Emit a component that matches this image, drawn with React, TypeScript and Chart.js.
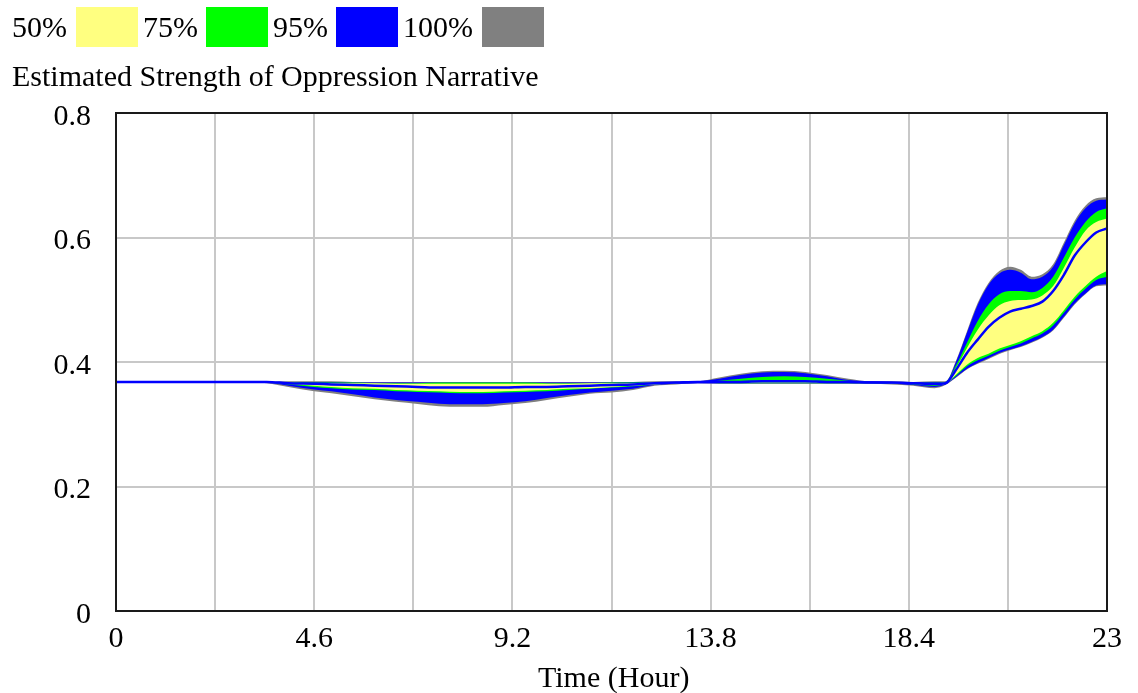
import React, { useEffect, useRef } from 'react';
import { Chart, registerables } from 'chart.js';

Chart.register(...registerables);

// Time axis (hours)
const times = [0, 1, 2, 3, 3.5, 4, 4.6, 5, 5.5, 6, 6.5, 7, 7.5, 8, 8.5, 9, 9.5, 10, 10.5, 11, 11.5, 12, 12.5, 13,
  13.5, 14, 14.5, 15, 15.5, 16, 16.5, 17, 17.5, 18, 18.5, 19, 19.25,
  19.5, 19.75, 20, 20.25, 20.5, 20.75, 21, 21.25, 21.5, 21.75, 22, 22.25, 22.5, 22.75, 23];

// 100% band (max / min)
const maxRun = [0.368, 0.368, 0.368, 0.368, 0.368, 0.369, 0.369, 0.369, 0.368, 0.368, 0.368, 0.368, 0.368, 0.368, 0.368, 0.368, 0.368, 0.368, 0.368, 0.368, 0.368, 0.368, 0.369, 0.369,
  0.369, 0.375, 0.381, 0.385, 0.386, 0.384, 0.379, 0.373, 0.369, 0.369, 0.368, 0.369, 0.369,
  0.403, 0.4495, 0.495, 0.527, 0.546, 0.553, 0.548, 0.537, 0.541, 0.557, 0.592, 0.627, 0.651, 0.663, 0.6645];
const minRun = [0.368, 0.368, 0.368, 0.368, 0.366, 0.36, 0.353, 0.35, 0.345, 0.34, 0.336, 0.3325, 0.329, 0.328, 0.328, 0.331, 0.334, 0.339, 0.344, 0.349, 0.351, 0.355, 0.362, 0.364,
  0.366, 0.365, 0.365, 0.365, 0.365, 0.365, 0.365, 0.365, 0.365, 0.364, 0.362, 0.358, 0.363,
  0.375, 0.388, 0.397, 0.405, 0.413, 0.419, 0.424, 0.431, 0.439, 0.4505, 0.471, 0.4925, 0.509, 0.5215, 0.523];

// 95% band
const hi95 = [0.368, 0.368, 0.368, 0.368, 0.368, 0.368, 0.368, 0.368, 0.367, 0.367, 0.367, 0.367, 0.367, 0.367, 0.367, 0.367, 0.367, 0.367, 0.367, 0.367, 0.367, 0.368, 0.368, 0.368,
  0.369, 0.373, 0.379, 0.383, 0.384, 0.382, 0.377, 0.371, 0.369, 0.368, 0.367, 0.368, 0.368,
  0.401, 0.447, 0.492, 0.524, 0.542, 0.548, 0.5435, 0.533, 0.537, 0.553, 0.588, 0.623, 0.647, 0.659, 0.661];
const lo95 = [0.368, 0.368, 0.368, 0.368, 0.367, 0.362, 0.356, 0.353, 0.348, 0.343, 0.339, 0.336, 0.333, 0.332, 0.332, 0.334, 0.337, 0.342, 0.347, 0.351, 0.354, 0.357, 0.363, 0.365,
  0.366, 0.366, 0.366, 0.366, 0.366, 0.366, 0.366, 0.366, 0.366, 0.365, 0.363, 0.36, 0.364,
  0.376, 0.389, 0.3984, 0.4065, 0.4145, 0.42, 0.4253, 0.4323, 0.4403, 0.452, 0.4726, 0.494, 0.51, 0.523, 0.5247];

// 75% band
const hi75 = [0.368, 0.368, 0.368, 0.368, 0.368, 0.368, 0.367, 0.367, 0.367, 0.366, 0.366, 0.366, 0.367, 0.367, 0.367, 0.367, 0.367, 0.366, 0.366, 0.366, 0.367, 0.367, 0.367, 0.368,
  0.368, 0.37, 0.373, 0.376, 0.377, 0.376, 0.373, 0.37, 0.368, 0.368, 0.366, 0.367, 0.368,
  0.395, 0.431, 0.466, 0.4925, 0.509, 0.514, 0.514, 0.512, 0.519, 0.537, 0.568, 0.6, 0.625, 0.641, 0.647];
const lo75 = [0.368, 0.368, 0.368, 0.368, 0.367, 0.364, 0.36, 0.358, 0.356, 0.355, 0.353, 0.352, 0.351, 0.35, 0.35, 0.351, 0.352, 0.353, 0.355, 0.357, 0.359, 0.361, 0.364, 0.366,
  0.367, 0.366, 0.366, 0.366, 0.366, 0.366, 0.366, 0.366, 0.366, 0.366, 0.364, 0.362, 0.365,
  0.378, 0.393, 0.4027, 0.41, 0.418, 0.424, 0.4296, 0.4376, 0.4457, 0.4586, 0.479, 0.5005, 0.5177, 0.5317, 0.537];

// 50% band
const hi50 = [0.368, 0.368, 0.368, 0.368, 0.368, 0.367, 0.366, 0.366, 0.366, 0.366, 0.365, 0.365, 0.365, 0.365, 0.365, 0.365, 0.365, 0.365, 0.365, 0.366, 0.366, 0.366, 0.367, 0.367,
  0.368, 0.368, 0.369, 0.37, 0.37, 0.37, 0.369, 0.368, 0.368, 0.367, 0.366, 0.366, 0.367,
  0.391, 0.4226, 0.452, 0.4747, 0.491, 0.498, 0.4995, 0.5005, 0.507, 0.522, 0.5516, 0.584, 0.611, 0.625, 0.6306];
const lo50 = [0.368, 0.368, 0.368, 0.368, 0.368, 0.365, 0.362, 0.36, 0.358, 0.357, 0.355, 0.354, 0.353, 0.352, 0.352, 0.353, 0.354, 0.355, 0.357, 0.358, 0.36, 0.362, 0.364, 0.366,
  0.367, 0.367, 0.367, 0.367, 0.367, 0.367, 0.367, 0.367, 0.367, 0.366, 0.365, 0.363, 0.365,
  0.38, 0.3957, 0.4065, 0.4134, 0.4215, 0.4274, 0.4333, 0.4414, 0.4495, 0.4629, 0.4833, 0.5048, 0.522, 0.537, 0.546];

// Base run line
const baseRun = [0.368, 0.368, 0.368, 0.368, 0.368, 0.366, 0.365, 0.364, 0.363, 0.362, 0.361, 0.36, 0.359, 0.359, 0.359, 0.359, 0.36, 0.36, 0.361, 0.362, 0.363, 0.364, 0.366, 0.367,
  0.368, 0.368, 0.368, 0.369, 0.369, 0.369, 0.368, 0.368, 0.367, 0.367, 0.366, 0.365, 0.366,
  0.388, 0.4145, 0.436, 0.4565, 0.471, 0.481, 0.4855, 0.49, 0.497, 0.514, 0.54, 0.571, 0.592, 0.608, 0.6145];

const xTickValues = [0, 2.3, 4.6, 6.9, 9.2, 11.5, 13.8, 16.1, 18.4, 20.7, 23];
const xTickLabels = ['0', '', '4.6', '', '9.2', '', '13.8', '', '18.4', '', '23'];
const yTickValues = [0, 0.2, 0.4, 0.6, 0.8];
const yTickLabels = ['0', '0.2', '0.4', '0.6', '0.8'];

const legendLabels = ['50%', '75%', '95%', '100%'];
const legendColors = ['#ffff80', '#00ff00', '#0000ff', '#808080'];
const chartTitle = 'Estimated Strength of Oppression Narrative';
const xAxisTitle = 'Time (Hour)';

const FONT = "'Liberation Serif', 'Times New Roman', serif";

const framePlugin = {
  id: 'frame',
  afterDatasetsDraw(chart: any) {
    const { ctx, chartArea } = chart;
    const { left, top, right, bottom } = chartArea;
    ctx.save();
    ctx.strokeStyle = '#1a1a1a';
    ctx.lineWidth = 2;
    ctx.strokeRect(left, top, right - left, bottom - top);
    ctx.restore();
  },
};

export default function App() {
  const canvasRef = useRef<HTMLCanvasElement | null>(null);

  useEffect(() => {
    const canvas = canvasRef.current;
    if (!canvas) return;
    const pts = (arr: number[]) => times.map((t, i) => ({ x: t, y: arr[i] }));
    const common = {
      pointRadius: 0,
      borderWidth: 1,
      borderColor: 'rgba(0,0,0,0)',
      cubicInterpolationMode: 'monotone' as const,
    };
    const band = (upper: number[], lower: number[], color: string, order: number) => [
      { ...common, data: pts(upper), fill: '+1', backgroundColor: color, order },
      { ...common, data: pts(lower), fill: false, backgroundColor: color, order },
    ];
    const datasets: any[] = [
      ...band(maxRun, minRun, legendColors[3], 5),
      ...band(hi95, lo95, legendColors[2], 4),
      ...band(hi75, lo75, legendColors[1], 3),
      ...band(hi50, lo50, legendColors[0], 2),
      {
        data: pts(baseRun),
        fill: false,
        borderColor: '#0000ff',
        borderWidth: 2.5,
        pointRadius: 0,
        cubicInterpolationMode: 'monotone',
        order: 1,
      },
    ];

    const chart = new Chart(canvas, {
      type: 'line',
      data: { datasets },
      options: {
        animation: false,
        responsive: false,
        devicePixelRatio: 1,
        layout: { padding: { top: 113, right: 31, left: 0, bottom: 0 } },
        plugins: { legend: { display: false }, tooltip: { enabled: false }, title: { display: false } },
        scales: {
          x: {
            type: 'linear',
            min: 0,
            max: 23,
            afterBuildTicks: (scale: any) => {
              scale.ticks = xTickValues.map((v) => ({ value: v }));
            },
            afterFit: (scale: any) => {
              scale.height = 82;
            },
            grid: { color: '#c8c8c8', lineWidth: 2, drawTicks: false },
            border: { display: false },
            ticks: {
              autoSkip: false,
              maxRotation: 0,
              padding: 10,
              color: '#000',
              font: { family: FONT, size: 30 },
              callback: (_v: any, i: number) => xTickLabels[i],
            },
          },
          y: {
            type: 'linear',
            min: 0,
            max: 0.8,
            afterBuildTicks: (scale: any) => {
              scale.ticks = yTickValues.map((v) => ({ value: v }));
            },
            afterFit: (scale: any) => {
              scale.width = 116;
            },
            grid: { color: '#c8c8c8', lineWidth: 2, drawTicks: false },
            border: { display: false },
            ticks: {
              padding: 25,
              labelOffset: 4,
              color: '#000',
              font: { family: FONT, size: 30 },
              callback: (_v: any, i: number) => yTickLabels[i],
            },
          },
        },
      },
      plugins: [framePlugin],
    } as any);

    return () => chart.destroy();
  }, []);

  const textStyle: React.CSSProperties = {
    position: 'absolute',
    fontFamily: FONT,
    fontSize: 30,
    lineHeight: '30px',
    color: '#000',
    whiteSpace: 'nowrap',
  };

  const legendTextX = [12, 143, 273, 403];
  const legendBoxX = [76, 206, 336, 482];

  return (
    <div style={{ position: 'absolute', left: 0, top: 0, width: 1138, height: 693, background: '#fff', overflow: 'hidden' }}>
      <canvas ref={canvasRef} width={1138} height={693} style={{ position: 'absolute', left: 0, top: 0, width: 1138, height: 693 }} />
      {legendLabels.map((lab, i) => (
        <React.Fragment key={lab}>
          <div style={{ ...textStyle, left: legendTextX[i], top: 12 }}>{lab}</div>
          <div style={{ position: 'absolute', left: legendBoxX[i], top: 7, width: 62, height: 40, background: legendColors[i] }} />
        </React.Fragment>
      ))}
      <div style={{ ...textStyle, left: 12, top: 61 }}>{chartTitle}</div>
      <div style={{ ...textStyle, left: 538, top: 662 }}>{xAxisTitle}</div>
    </div>
  );
}
